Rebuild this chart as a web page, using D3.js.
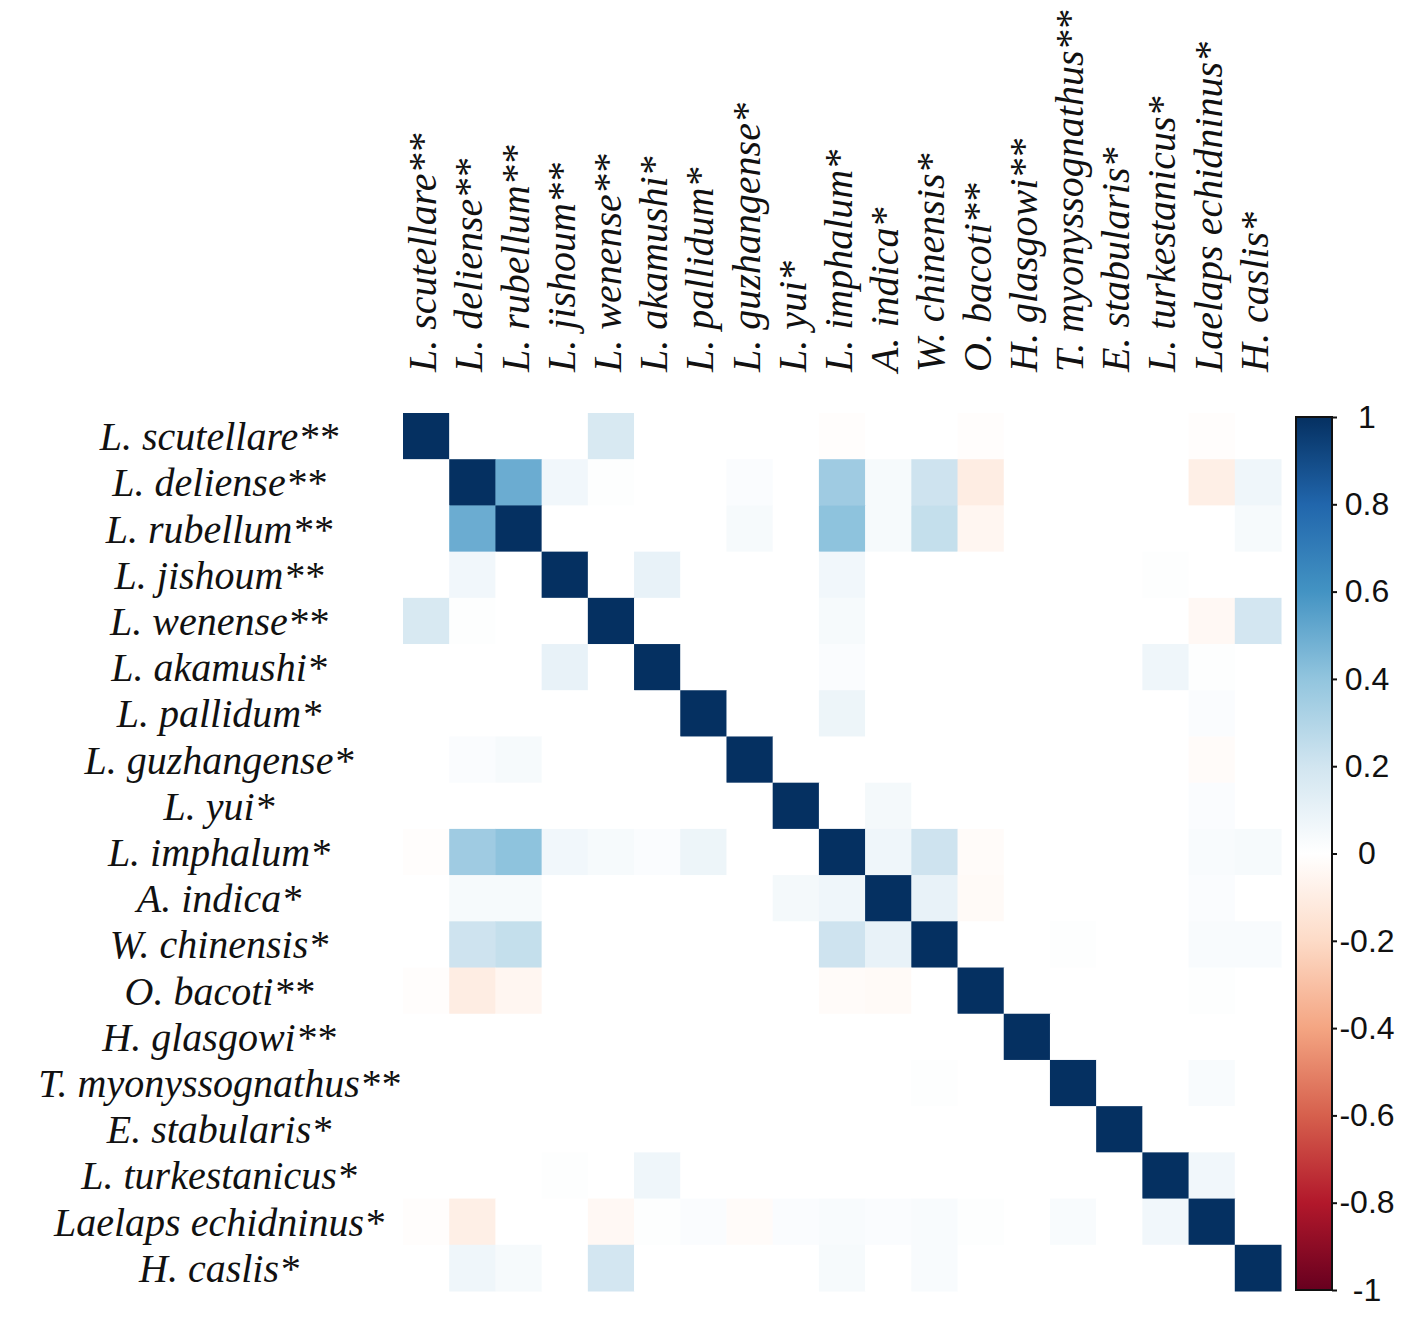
<!DOCTYPE html>
<html>
<head>
<meta charset="utf-8">
<script src="https://cdn.jsdelivr.net/npm/d3@7"></script>
<style>
body { margin: 0; background: #fff; }
</style>
</head>
<body>
<main></main>
<script>
// species labels (same order for rows and columns)
const species = [
  "L. scutellare**", "L. deliense**", "L. rubellum**", "L. jishoum**", "L. wenense**",
  "L. akamushi*", "L. pallidum*", "L. guzhangense*", "L. yui*", "L. imphalum*",
  "A. indica*", "W. chinensis*", "O. bacoti**", "H. glasgowi**", "T. myonyssognathus**",
  "E. stabularis*", "L. turkestanicus*", "Laelaps echidninus*", "H. caslis*"
];

// correlation matrix
const corr = [
  [1, 0, 0, 0, 0.17, 0, 0, 0, 0, -0.01, 0, 0, -0.01, 0, 0, 0, 0, -0.01, 0],
  [0, 1, 0.5, 0.06, 0.01, 0, 0, 0.02, 0, 0.36, 0.04, 0.21, -0.1, 0, 0, 0, 0, -0.09, 0.07],
  [0, 0.5, 1, 0, 0, 0, 0, 0.04, 0, 0.41, 0.04, 0.24, -0.05, 0, 0, 0, 0, 0, 0.04],
  [0, 0.06, 0, 1, 0, 0.1, 0, 0, 0, 0.06, 0, 0, 0, 0, 0, 0, 0.01, 0, 0],
  [0.17, 0.01, 0, 0, 1, 0, 0, 0, 0, 0.04, 0, 0, 0, 0, 0, 0, 0, -0.04, 0.19],
  [0, 0, 0, 0.1, 0, 1, 0, 0, 0, 0.02, 0, 0, 0, 0, 0, 0, 0.07, 0.01, 0],
  [0, 0, 0, 0, 0, 0, 1, 0, 0, 0.08, 0, 0, 0, 0, 0, 0, 0, 0.02, 0],
  [0, 0.02, 0.04, 0, 0, 0, 0, 1, 0, 0, 0, 0, 0, 0, 0, 0, 0, -0.02, 0],
  [0, 0, 0, 0, 0, 0, 0, 0, 1, 0, 0.05, 0, 0, 0, 0, 0, 0, 0.02, 0],
  [-0.01, 0.36, 0.41, 0.06, 0.04, 0.02, 0.08, 0, 0, 1, 0.07, 0.21, -0.02, 0, 0, 0, 0, 0.03, 0.04],
  [0, 0.04, 0.04, 0, 0, 0, 0, 0, 0.05, 0.07, 1, 0.1, -0.03, 0, 0, 0, 0, 0.02, 0],
  [0, 0.21, 0.24, 0, 0, 0, 0, 0, 0, 0.21, 0.1, 1, 0, 0, 0.01, 0, 0, 0.03, 0.03],
  [-0.01, -0.1, -0.05, 0, 0, 0, 0, 0, 0, -0.02, -0.03, 0, 1, 0, 0, 0, 0, 0.01, 0],
  [0, 0, 0, 0, 0, 0, 0, 0, 0, 0, 0, 0, 0, 1, 0, 0, 0, 0, 0],
  [0, 0, 0, 0, 0, 0, 0, 0, 0, 0, 0, 0.01, 0, 0, 1, 0, 0, 0.03, 0],
  [0, 0, 0, 0, 0, 0, 0, 0, 0, 0, 0, 0, 0, 0, 0, 1, 0, 0, 0],
  [0, 0, 0, 0.01, 0, 0.07, 0, 0, 0, 0, 0, 0, 0, 0, 0, 0, 1, 0.06, 0],
  [-0.01, -0.09, 0, 0, -0.04, 0.01, 0.02, -0.02, 0.02, 0.03, 0.02, 0.03, 0.01, 0, 0.03, 0, 0.06, 1, 0],
  [0, 0.07, 0.04, 0, 0.19, 0, 0, 0, 0, 0.04, 0, 0.03, 0, 0, 0, 0, 0, 0, 1]
];

// colour legend
const colorTicks = [1, 0.8, 0.6, 0.4, 0.2, 0, -0.2, -0.4, -0.6, -0.8, -1];
const colorValues = [-1, -0.8, -0.6, -0.4, -0.2, 0, 0.2, 0.4, 0.6, 0.8, 1];
const colorStops = ["#67001F", "#B2182B", "#D6604D", "#F4A582", "#FDDBC7", "#FFFFFF",
                    "#D1E5F0", "#92C5DE", "#4393C3", "#2166AC", "#053061"];

const width = 1418, height = 1336;
const svg = d3.select("main").append("svg")
  .attr("width", width)
  .attr("height", height);

const color = d3.scaleLinear().domain(colorValues).range(colorStops).clamp(true);

const x = d3.scaleBand().domain(d3.range(species.length)).range([403, 1281]);
const y = d3.scaleBand().domain(d3.range(species.length)).range([413, 1291]);

// cells
const cells = [];
corr.forEach((row, i) => row.forEach((v, j) => cells.push({i, j, v})));

svg.append("g").selectAll("rect")
  .data(cells)
  .enter()
  .append("rect")
  .attr("x", d => x(d.j))
  .attr("y", d => y(d.i))
  .attr("width", x.bandwidth() + 0.5)
  .attr("height", y.bandwidth() + 0.5)
  .attr("fill", d => color(d.v));

const labelFont = "'Liberation Serif', 'Times New Roman', serif";

// row labels
svg.append("g").selectAll("text")
  .data(species)
  .enter()
  .append("text")
  .attr("x", 219)
  .attr("y", (d, i) => y(i) + y.bandwidth() / 2)
  .attr("dy", "0.35em")
  .attr("text-anchor", "middle")
  .style("font-family", labelFont)
  .style("font-style", "italic")
  .style("font-size", "40px")
  .style("fill", "#111")
  .text(d => d);

// column labels
svg.append("g").selectAll("text")
  .data(species)
  .enter()
  .append("text")
  .attr("transform", (d, i) => "translate(" + (x(i) + x.bandwidth() / 2 - 4) + ",372) rotate(-90)")
  .attr("dy", "0.35em")
  .attr("text-anchor", "start")
  .style("font-family", labelFont)
  .style("font-style", "italic")
  .style("font-size", "40px")
  .style("fill", "#111")
  .text(d => d);

// colour bar
const cScale = d3.scaleLinear().domain([-1, 1]).range([1290, 417]);

const grad = svg.append("defs").append("linearGradient")
  .attr("id", "cbar")
  .attr("x1", "0").attr("y1", "1")
  .attr("x2", "0").attr("y2", "0");
grad.selectAll("stop")
  .data(colorValues)
  .enter()
  .append("stop")
  .attr("offset", d => ((d + 1) / 2 * 100) + "%")
  .attr("stop-color", d => color(d));

svg.append("rect")
  .attr("x", 1296)
  .attr("y", cScale(1))
  .attr("width", 36)
  .attr("height", cScale(-1) - cScale(1))
  .attr("fill", "url(#cbar)")
  .attr("stroke", "#111")
  .attr("stroke-width", 2);

const cAxis = d3.axisRight(cScale)
  .tickValues(colorTicks)
  .tickSize(5)
  .tickFormat(d => String(d));

const gAxis = svg.append("g")
  .attr("transform", "translate(1332,0)")
  .call(cAxis);
gAxis.select(".domain").remove();
gAxis.selectAll(".tick line").attr("stroke", "#111").attr("stroke-width", 2);
gAxis.selectAll(".tick text")
  .attr("x", 35)
  .attr("text-anchor", "middle")
  .style("font-family", "'Liberation Sans', Arial, sans-serif")
  .style("font-size", "32px")
  .style("fill", "#111");
</script>
</body>
</html>
